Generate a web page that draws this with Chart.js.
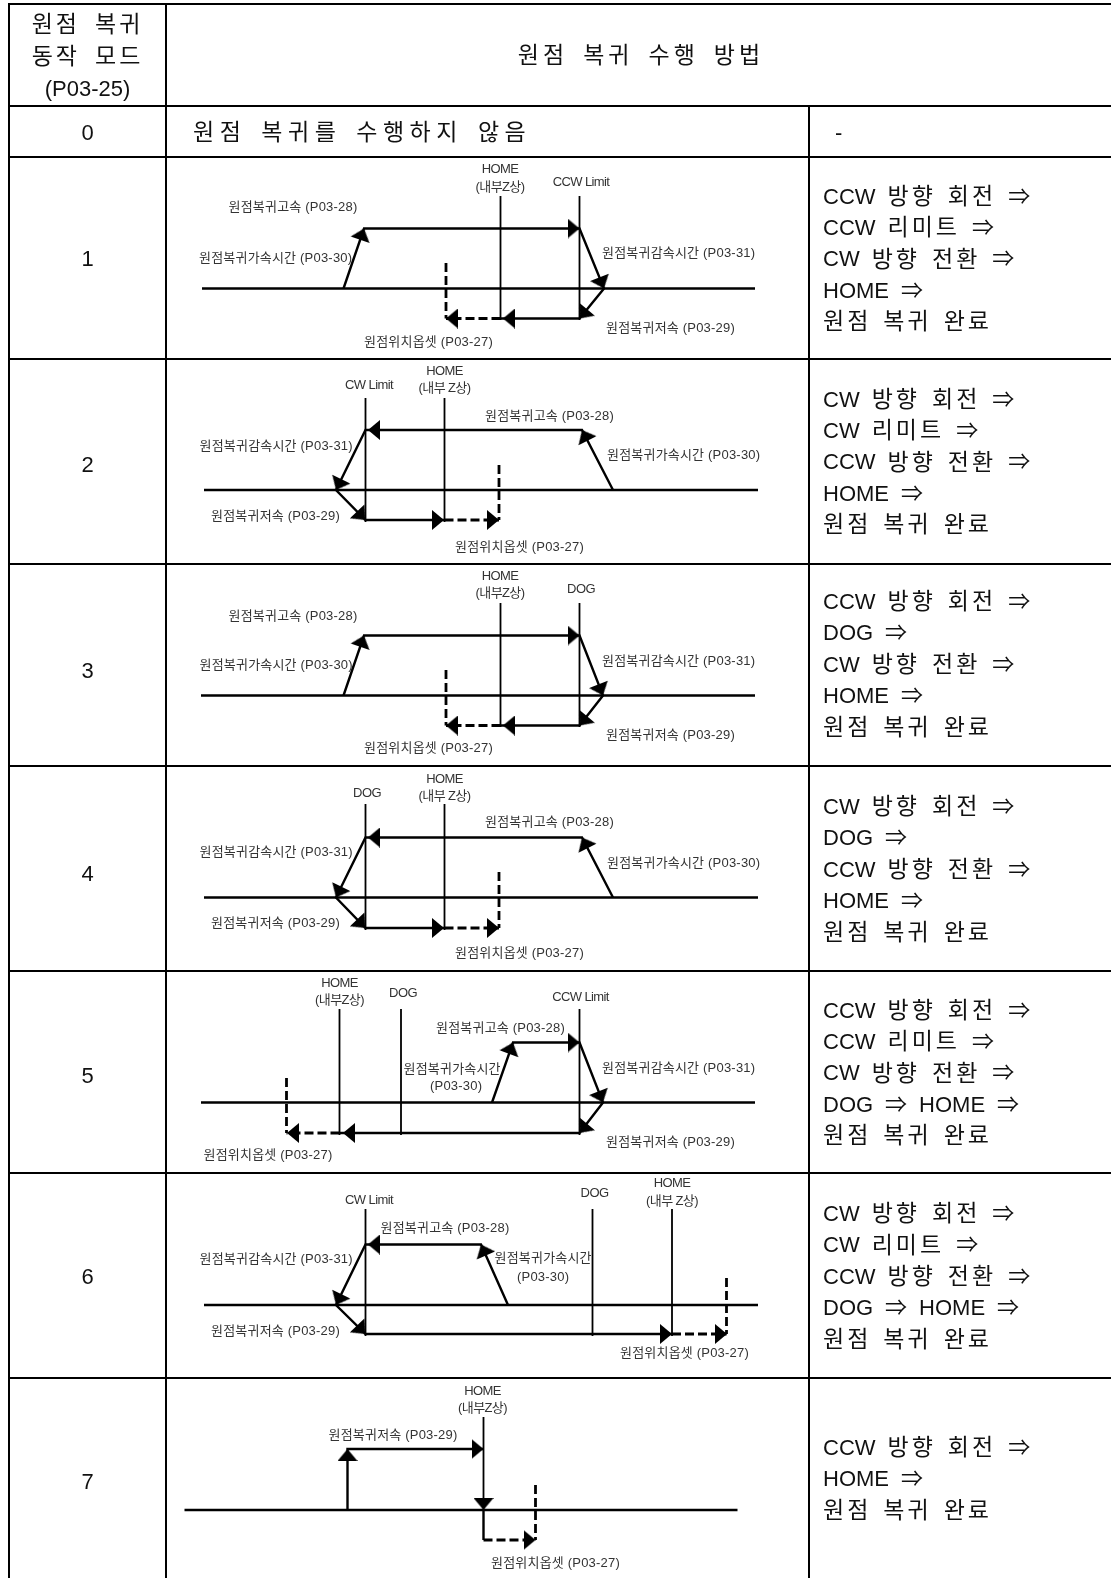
<!DOCTYPE html>
<html lang="ko">
<head>
<meta charset="utf-8">
<title>원점 복귀 수행 방법</title>
<script src="https://cdn.jsdelivr.net/npm/chart.js@4"></script>
<style>
  html, body { margin: 0; padding: 0; background: #fff; }
  canvas { display: block; }
</style>
</head>
<body>
<canvas id="homingChart" width="1111" height="1578"></canvas>
<script>
// Table text
const modeHeader = ['원점 복귀', '동작 모드', '(P03-25)'];
const methodHeader = '원점 복귀 수행 방법';
const modeNumbers = ['0', '1', '2', '3', '4', '5', '6', '7'];
const modeZeroText = '원점 복귀를 수행하지 않음';
const sequences = [
  ['CCW 방향 회전 ⇒', 'CCW 리미트 ⇒', 'CW 방향 전환 ⇒', 'HOME ⇒', '원점 복귀 완료'],
  ['CW 방향 회전 ⇒', 'CW 리미트 ⇒', 'CCW 방향 전환 ⇒', 'HOME ⇒', '원점 복귀 완료'],
  ['CCW 방향 회전 ⇒', 'DOG ⇒', 'CW 방향 전환 ⇒', 'HOME ⇒', '원점 복귀 완료'],
  ['CW 방향 회전 ⇒', 'DOG ⇒', 'CCW 방향 전환 ⇒', 'HOME ⇒', '원점 복귀 완료'],
  ['CCW 방향 회전 ⇒', 'CCW 리미트 ⇒', 'CW 방향 전환 ⇒', 'DOG ⇒ HOME ⇒', '원점 복귀 완료'],
  ['CW 방향 회전 ⇒', 'CW 리미트 ⇒', 'CCW 방향 전환 ⇒', 'DOG ⇒ HOME ⇒', '원점 복귀 완료'],
  ['CCW 방향 회전 ⇒', 'HOME ⇒', '원점 복귀 완료']
];

// Parameter names used in the diagrams
const HIGH = '원점복귀고속 (P03-28)';
const LOW = '원점복귀저속 (P03-29)';
const ACCEL = '원점복귀가속시간 (P03-30)';
const DECEL = '원점복귀감속시간 (P03-31)';
const OFFSET = '원점위치옵셋 (P03-27)';

// Left aligned labels: text, x, y
const startLabels = [
  [HIGH, 228.5, 207], [ACCEL, 199, 258], [OFFSET, 364, 342], [DECEL, 602, 253], [LOW, 606, 328],
  [HIGH, 485, 416], [ACCEL, 607, 455], [DECEL, 199.5, 446], [LOW, 211, 516], [OFFSET, 455, 547],
  [HIGH, 228.5, 616], [ACCEL, 199.5, 665], [DECEL, 602, 661], [LOW, 606, 735], [OFFSET, 364, 748],
  [HIGH, 485, 822], [ACCEL, 607, 863], [DECEL, 199.5, 852], [LOW, 211, 923], [OFFSET, 455, 953],
  [HIGH, 436, 1028], ['원점복귀가속시간', 403.5, 1069], ['(P03-30)', 430, 1086], [DECEL, 602, 1068], [LOW, 606, 1142], [OFFSET, 203.5, 1155],
  [HIGH, 380.5, 1228], ['원점복귀가속시간', 494.5, 1258], ['(P03-30)', 517, 1277], [DECEL, 199.5, 1259], [LOW, 211, 1331], [OFFSET, 620, 1353],
  [LOW, 328.5, 1435], [OFFSET, 491, 1563]
];

// Centered labels: text, x, y
const centerLabels = [
  ['HOME', 500, 169], ['(내부Z상)', 500, 187], ['CCW Limit', 581, 182],
  ['HOME', 444.5, 371], ['(내부 Z상)', 444.5, 388], ['CW Limit', 369, 385],
  ['HOME', 500, 576], ['(내부Z상)', 500, 593], ['DOG', 581, 589],
  ['HOME', 444.5, 779], ['(내부 Z상)', 444.5, 796], ['DOG', 367, 793],
  ['HOME', 339.5, 983], ['(내부Z상)', 339.5, 1000], ['DOG', 403, 993], ['CCW Limit', 580.5, 997],
  ['HOME', 672, 1183], ['(내부 Z상)', 672, 1201], ['CW Limit', 369, 1200], ['DOG', 594.5, 1193],
  ['HOME', 482.5, 1391], ['(내부Z상)', 482.5, 1408]
];

// Table rules
const tableRules = [
  [[8, 4], [1111, 4]], [[8, 106], [1111, 106]], [[8, 157], [1111, 157]], [[8, 359], [1111, 359]],
  [[8, 564], [1111, 564]], [[8, 766], [1111, 766]], [[8, 971], [1111, 971]], [[8, 1173], [1111, 1173]],
  [[8, 1378], [1111, 1378]],
  [[9, 3], [9, 1578]], [[166, 4], [166, 1578]], [[809, 106], [809, 1578]]
];

// Horizontal time axis of each diagram
const baseLines = [
  [[202, 288.5], [755, 288.5]], [[204, 490], [758, 490]], [[201, 695.5], [755, 695.5]],
  [[204, 897.5], [758, 897.5]], [[201, 1102.5], [755, 1102.5]], [[204, 1305], [758, 1305]],
  [[184.5, 1510], [737.5, 1510]]
];

// HOME, DOG and limit markers
const markerLines = [
  [[500.5, 196], [500.5, 320]], [[579.5, 196], [579.5, 320]],
  [[365.5, 398], [365.5, 522]], [[444.5, 398], [444.5, 522]],
  [[500.5, 603], [500.5, 727]], [[579.5, 603], [579.5, 727]],
  [[365.5, 804], [365.5, 930]], [[444.5, 804], [444.5, 930]],
  [[339.5, 1009], [339.5, 1135]], [[401, 1009], [401, 1135]], [[579.5, 1009], [579.5, 1135]],
  [[365.5, 1209], [365.5, 1336]], [[592.5, 1209], [592.5, 1336]], [[672, 1209], [672, 1336]],
  [[483.5, 1417], [483.5, 1510]]
];

// Speed profiles, solid part
const speedPaths = [
  [[343.5, 288.5], [364, 228.5], [579.5, 228.5], [604, 288.5], [579.5, 318.5], [500.5, 318.5]],
  [[613, 490], [582, 430], [365.5, 430], [336, 490], [365.5, 520], [444.5, 520]],
  [[343.5, 695.5], [364, 635.5], [579.5, 635.5], [603, 695.5], [579.5, 725.5], [500.5, 725.5]],
  [[613, 897.5], [582, 837.5], [365.5, 837.5], [336, 897.5], [365.5, 928], [444.5, 928]],
  [[492, 1102.5], [513, 1042.5], [579.5, 1042.5], [603, 1102.5], [579.5, 1133], [339.5, 1133]],
  [[508, 1305], [481, 1244.5], [365.5, 1244.5], [336, 1305], [365.5, 1334], [672, 1334]],
  [[347.5, 1510], [347.5, 1449], [483.5, 1449]],
  [[483.5, 1510], [483.5, 1540]]
];

// Offset move after HOME, dashed part: run along the bottom, then the stop marker from its top
const offsetPaths = [
  [[500.5, 318.5], [446, 318.5]], [[446, 263], [446, 318.5]],
  [[444.5, 520], [499, 520]], [[499, 465], [499, 520]],
  [[500.5, 725.5], [446, 725.5]], [[446, 670], [446, 725.5]],
  [[444.5, 928], [499, 928]], [[499, 872], [499, 928]],
  [[339.5, 1133], [286.5, 1133]], [[286.5, 1078], [286.5, 1133]],
  [[672, 1334], [726.5, 1334]], [[726.5, 1278], [726.5, 1334]],
  [[483.5, 1540], [535.5, 1540]], [[535.5, 1485], [535.5, 1540]]
];

// Arrow tips: x, y, heading in degrees
const arrowTips = [
  [364, 228.5, 19], [579.5, 228.5, 90], [604, 288.5, 158], [579.5, 318.5, 220], [503, 318.5, 270], [446, 318.5, 270],
  [582, 430, 333], [368, 430, 270], [336, 490, 206], [365.5, 520, 136], [444, 520, 90], [499, 520, 90],
  [364, 635.5, 19], [579.5, 635.5, 90], [603, 695.5, 158], [579.5, 725.5, 220], [503, 725.5, 270], [446, 725.5, 270],
  [582, 837.5, 333], [368, 837.5, 270], [336, 897.5, 206], [365.5, 928, 136], [444, 928, 90], [499, 928, 90],
  [513, 1042.5, 20], [579.5, 1042.5, 90], [603, 1102.5, 158], [579.5, 1133, 220], [343, 1133, 270], [287, 1133, 270],
  [481, 1244.5, 336], [368, 1244.5, 270], [336, 1305, 206], [365.5, 1334, 136], [672, 1334, 90], [727, 1334, 90],
  [347.5, 1449, 0], [483.5, 1449, 90], [483.5, 1510, 180], [535.5, 1540, 90]
];

const ARROW_LENGTH = 12;
const ARROW_BASE = 20;
const LATIN_FONT = '22px "Liberation Sans", "Noto Sans CJK KR"';
const HANGUL_FONT = '23px "Liberation Sans", "Noto Sans CJK KR"';

// Chart.js can rotate a canvas point style, so the arrow head is a small canvas
function makeArrowHead() {
  const c = document.createElement('canvas');
  c.width = ARROW_BASE;
  c.height = ARROW_LENGTH;
  const g = c.getContext('2d');
  g.fillStyle = '#000';
  g.beginPath();
  g.moveTo(ARROW_BASE / 2, 0);
  g.lineTo(ARROW_BASE, ARROW_LENGTH);
  g.lineTo(0, ARROW_LENGTH);
  g.closePath();
  g.fill();
  return c;
}

// Null points keep the separate paths apart inside one dataset
function toPoints(paths) {
  const points = [];
  paths.forEach(path => {
    path.forEach(p => points.push({ x: p[0], y: p[1] }));
    points.push({ x: null, y: null });
  });
  return points;
}

// A point style is centered on its point, so step back half a length from the tip
function arrowCenter(tip) {
  const rad = tip[2] * Math.PI / 180;
  return {
    x: tip[0] - Math.sin(rad) * ARROW_LENGTH / 2,
    y: tip[1] + Math.cos(rad) * ARROW_LENGTH / 2
  };
}

function lineSet(paths, width, dash) {
  return {
    data: toPoints(paths),
    showLine: true,
    borderColor: '#000',
    borderWidth: width,
    borderDash: dash || [],
    borderCapStyle: 'butt',
    borderJoinStyle: 'miter',
    pointRadius: 0,
    spanGaps: false
  };
}

// Hangul in the table is spaced out, Latin words are not
function setWordStyle(ctx, tracked, spacing) {
  ctx.font = tracked ? HANGUL_FONT : LATIN_FONT;
  ctx.letterSpacing = tracked ? spacing + 'px' : '0px';
}

function drawWords(ctx, text, x, y, align, spacing, gap) {
  const words = text.split(' ').map(word => {
    const tracked = /[가-힣]/.test(word);
    setWordStyle(ctx, tracked, spacing);
    return { word, tracked, width: ctx.measureText(word).width };
  });
  const total = words.reduce((sum, w) => sum + w.width, 0) + gap * (words.length - 1);
  let left = align === 'center' ? x - total / 2 : x;
  words.forEach(w => {
    setWordStyle(ctx, w.tracked, spacing);
    ctx.fillText(w.word, left, y);
    left += w.width + gap;
  });
  ctx.letterSpacing = '0px';
}

const textPlugin = {
  id: 'tableText',
  afterDatasetsDraw(chart) {
    const ctx = chart.ctx;
    const sx = v => chart.scales.x.getPixelForValue(v);
    const sy = v => chart.scales.y.getPixelForValue(v);
    ctx.save();
    ctx.textBaseline = 'middle';
    ctx.textAlign = 'left';
    ctx.fillStyle = '#111';

    modeHeader.forEach((line, i) => drawWords(ctx, line, sx(87.5), sy([26, 58, 90][i]), 'center', 3, 15));
    drawWords(ctx, methodHeader, sx(641), sy(57), 'center', 4, 15);
    drawWords(ctx, modeZeroText, sx(193), sy(134), 'left', 5.5, 15);
    drawWords(ctx, '-', sx(835), sy(134), 'left', 0, 0);

    const numberRows = [134, 260, 466, 672, 875, 1077, 1278, 1483];
    modeNumbers.forEach((n, i) => drawWords(ctx, n, sx(87.5), sy(numberRows[i]), 'center', 0, 0));

    const sequenceRows = [197.5, 400.5, 603, 808, 1011.5, 1215, 1449];
    sequences.forEach((lines, i) => {
      lines.forEach((line, j) => {
        drawWords(ctx, line, sx(823), sy(sequenceRows[i] + j * 31.4), 'left', 3, 12);
      });
    });

    ctx.fillStyle = '#333';
    ctx.font = '13px "Liberation Sans", "Noto Sans CJK KR"';
    ctx.letterSpacing = '0.2px';
    startLabels.forEach(l => ctx.fillText(l[0], sx(l[1]), sy(l[2])));
    ctx.textAlign = 'center';
    ctx.letterSpacing = '-0.6px';
    centerLabels.forEach(l => ctx.fillText(l[0], sx(l[1]), sy(l[2])));
    ctx.restore();
  }
};

new Chart(document.getElementById('homingChart'), {
  type: 'scatter',
  data: {
    datasets: [
      lineSet(tableRules, 2),
      lineSet(baseLines, 2.5),
      lineSet(markerLines, 1.8),
      lineSet(speedPaths, 2.4),
      lineSet(offsetPaths, 2.8, [9, 4]),
      {
        data: arrowTips.map(arrowCenter),
        showLine: false,
        pointStyle: makeArrowHead(),
        pointRadius: ARROW_BASE / 2,
        pointRotation: ctx => arrowTips[ctx.dataIndex][2]
      }
    ]
  },
  options: {
    responsive: false,
    animation: false,
    events: [],
    layout: { padding: 0, autoPadding: false },
    plugins: { legend: { display: false }, tooltip: { enabled: false } },
    scales: {
      x: { type: 'linear', display: false, min: 0, max: 1111 },
      y: { type: 'linear', display: false, min: 0, max: 1578, reverse: true }
    }
  },
  plugins: [textPlugin]
});
</script>
</body>
</html>
